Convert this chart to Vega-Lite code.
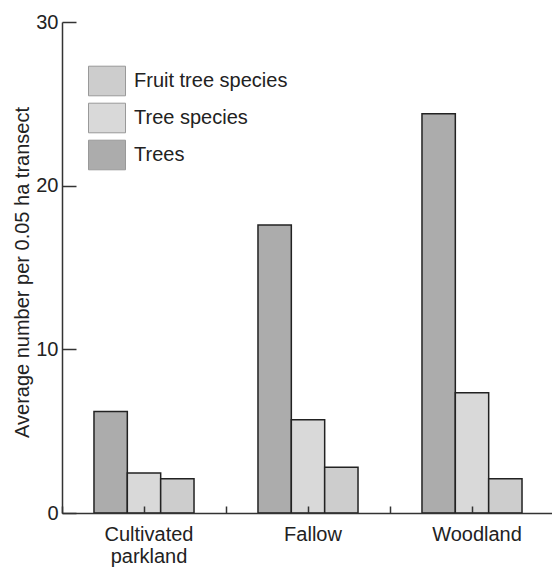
{
  "$schema": "https://vega.github.io/schema/vega-lite/v6.json",
  "autosize": {"type": "none"},
  "padding": {"left": 62, "top": 22, "right": 0, "bottom": 58},
  "width": 492,
  "height": 491,
  "background": "white",
  "config": {
    "view": {"stroke": null},
    "font": "Liberation Sans",
    "axis": {"grid": false, "domainColor": "#333", "domainWidth": 1.5, "tickColor": "#333", "tickWidth": 1.5, "labelColor": "#222", "titleColor": "#222", "labelFont": "Liberation Sans", "titleFont": "Liberation Sans", "labelFontSize": 20, "titleFontSize": 20, "titleFontWeight": "normal"}
  },
  "data": {
    "values": [
      {"site": "Cultivated parkland", "series": "Trees", "value": 6.2},
      {"site": "Cultivated parkland", "series": "Tree species", "value": 2.45},
      {"site": "Cultivated parkland", "series": "Fruit tree species", "value": 2.1},
      {"site": "Fallow", "series": "Trees", "value": 17.6},
      {"site": "Fallow", "series": "Tree species", "value": 5.7},
      {"site": "Fallow", "series": "Fruit tree species", "value": 2.8},
      {"site": "Woodland", "series": "Trees", "value": 24.4},
      {"site": "Woodland", "series": "Tree species", "value": 7.35},
      {"site": "Woodland", "series": "Fruit tree species", "value": 2.1}
    ]
  },
  "resolve": {"scale": {"x": "independent"}, "axis": {"x": "independent"}},
  "layer": [
    {
      "mark": {"type": "rule", "opacity": 0},
      "encoding": {
        "x": {
          "field": "site", "type": "nominal",
          "sort": ["Cultivated parkland", "Fallow", "Woodland"],
          "scale": {"paddingInner": 0, "paddingOuter": 0},
          "axis": {"orient": "bottom", "title": null, "labels": false, "domain": false, "bandPosition": 0, "tickSize": -7, "zindex": 1}
        }
      }
    },
    {
      "mark": {"type": "bar", "stroke": "#222", "strokeWidth": 1.5},
      "encoding": {
        "x": {
          "field": "site", "type": "nominal",
          "sort": ["Cultivated parkland", "Fallow", "Woodland"],
          "scale": {"paddingInner": 0.39, "paddingOuter": 0.195},
          "axis": {"orient": "bottom", "title": null, "labelAngle": 0, "tickSize": -7, "labelPadding": 18, "labelLineHeight": 22, "labelBaseline": "top", "labelOffset": 5, "zindex": 1,
                   "labelExpr": "datum.value == 'Cultivated parkland' ? ['Cultivated', 'parkland'] : datum.value"}
        },
        "xOffset": {
          "field": "series", "type": "nominal",
          "sort": ["Trees", "Tree species", "Fruit tree species"],
          "scale": {"paddingInner": 0, "paddingOuter": 0}
        },
        "y": {
          "field": "value", "type": "quantitative",
          "scale": {"domain": [0, 30], "nice": false},
          "axis": {"values": [0, 10, 20, 30], "tickSize": -14, "labelPadding": 18, "zindex": 1,
                   "title": "Average number per 0.05 ha transect", "titleX": -30, "titleY": 250, "titleAlign": "center"}
        },
        "color": {
          "field": "series", "type": "nominal",
          "scale": {"domain": ["Fruit tree species", "Tree species", "Trees"], "range": ["#cdcdcd", "#d9d9d9", "#acacac"]},
          "legend": {
            "title": null, "orient": "none", "legendX": 26, "legendY": 40,
            "symbolType": "M-1,-0.8H1V0.8H-1Z", "symbolSize": 1369,
            "symbolStrokeColor": "#999", "symbolStrokeWidth": 1, "symbolOpacity": 1,
            "labelFont": "Liberation Sans", "labelFontSize": 20, "labelColor": "#222", "labelOffset": 8, "rowPadding": 1, "labelLimit": 300
          }
        }
      }
    }
  ]
}
